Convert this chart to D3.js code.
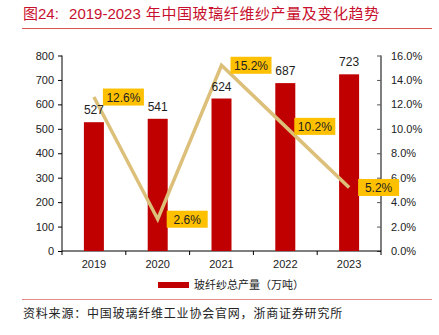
<!DOCTYPE html>
<html>
<head>
<meta charset="utf-8">
<script src="https://cdn.jsdelivr.net/npm/d3@7"></script>
<style>
body { margin: 0; background: #fff; }
svg { display: block; font-family: Arial, 'Liberation Sans', sans-serif; }
.cjk { font-family: 'Noto Sans CJK SC', sans-serif; }
</style>
</head>
<body>
<script>
// data
const years = ['2019', '2020', '2021', '2022', '2023']
const output = [527, 541, 624, 687, 723]
const growth = [12.6, 2.6, 15.2, 10.2, 5.2]
const leftTicks = [0, 100, 200, 300, 400, 500, 600, 700, 800]
const rightTicks = [0, 2, 4, 6, 8, 10, 12, 14, 16]

const width = 439, height = 335
const plot = {left: 62, right: 381, top: 55.5, bottom: 251}
const red = '#c00000'

const svg = d3.select('body').append('svg')
    .attr('width', width)
    .attr('height', height)

// title
svg.append('text')
    .attr('x', 23).attr('y', 19)
    .attr('fill', '#c8102e')
    .attr('font-size', 15)
    .html('<tspan class="cjk">图</tspan>24:  <tspan dx="6">2019-2023</tspan><tspan class="cjk" dx="5" letter-spacing="0.6">年中国玻璃纤维纱产量及变化趋势</tspan>')

svg.append('line')
    .attr('x1', 22).attr('x2', 432).attr('y1', 28.5).attr('y2', 28.5)
    .attr('stroke', '#d9534f').attr('stroke-width', 1)

svg.append('line')
    .attr('x1', 22).attr('x2', 432).attr('y1', 299.5).attr('y2', 299.5)
    .attr('stroke', '#e58a8a').attr('stroke-width', 1)

svg.append('text')
    .attr('class', 'cjk')
    .attr('x', 23).attr('y', 318)
    .attr('font-size', 12)
    .attr('letter-spacing', 0.8)
    .attr('fill', '#222')
    .text('资料来源：中国玻璃纤维工业协会官网，浙商证券研究所')

// scales
const x = d3.scaleBand()
    .domain(years)
    .range([plot.left, plot.right])

const yLeft = d3.scaleLinear()
    .domain([0, 800])
    .range([plot.bottom, plot.top])

const yRight = d3.scaleLinear()
    .domain([0, 16])
    .range([plot.bottom, plot.top])

// axes
const leftAxis = svg.append('g')
    .attr('transform', `translate(${plot.left},0)`)
    .call(d3.axisLeft(yLeft).tickValues(leftTicks).tickSize(4).tickPadding(4))
leftAxis.select('.domain').attr('d', `M0,${plot.top}V${plot.bottom}`).attr('stroke', '#000')
leftAxis.selectAll('text').attr('font-size', 11).attr('fill', '#222')

const rightAxis = svg.append('g')
    .attr('transform', `translate(${plot.right},0)`)
    .call(d3.axisRight(yRight).tickValues(rightTicks)
        .tickFormat(d => d.toFixed(1) + '%').tickSize(0).tickPadding(10))
rightAxis.select('.domain').attr('d', `M0,${plot.top}V${plot.bottom}`).attr('stroke', '#555').attr('stroke-width', 1.5)
rightAxis.selectAll('.tick line').attr('x2', -4).attr('stroke', '#555')
rightAxis.selectAll('text').attr('font-size', 11).attr('fill', '#222')

// x axis line with ticks at band edges
const xAxisG = svg.append('g')
xAxisG.append('line')
    .attr('x1', plot.left).attr('x2', plot.right)
    .attr('y1', plot.bottom).attr('y2', plot.bottom)
    .attr('stroke', '#000')
const edges = years.map(d => x(d)).concat([x(years[years.length - 1]) + x.bandwidth()])
xAxisG.selectAll('.xt')
    .data(edges)
    .join('line')
    .attr('x1', d => d).attr('x2', d => d)
    .attr('y1', plot.bottom).attr('y2', plot.bottom + 4)
    .attr('stroke', '#000')
xAxisG.selectAll('.xl')
    .data(years)
    .join('text')
    .attr('x', d => x(d) + x.bandwidth() / 2)
    .attr('y', plot.bottom + 17)
    .attr('text-anchor', 'middle')
    .attr('font-size', 11)
    .attr('fill', '#222')
    .text(d => d)

// bars
const barW = 20
svg.selectAll('.bar')
    .data(output)
    .join('rect')
    .attr('x', (d, i) => x(years[i]) + x.bandwidth() / 2 - barW / 2)
    .attr('y', d => yLeft(d))
    .attr('width', barW)
    .attr('height', d => plot.bottom - yLeft(d))
    .attr('fill', red)

// growth line
const line = d3.line()
    .x((d, i) => x(years[i]) + x.bandwidth() / 2)
    .y(d => yRight(d))

svg.append('path')
    .datum(growth)
    .attr('d', line)
    .attr('fill', 'none')
    .attr('stroke', '#dcbf78')
    .attr('stroke-width', 3.5)

// bar value labels over the line
svg.selectAll('.barlabel')
    .data(output)
    .join('text')
    .attr('x', (d, i) => x(years[i]) + x.bandwidth() / 2)
    .attr('y', d => yLeft(d) - 8)
    .attr('text-anchor', 'middle')
    .attr('font-size', 12)
    .attr('fill', '#222')
    .text(d => d)

const labels = svg.selectAll('.gl')
    .data(growth)
    .join('g')
    .attr('transform', (d, i) => `translate(${x(years[i]) + x.bandwidth() / 2 + 9},${yRight(d)})`)
labels.append('rect')
    .attr('x', 0).attr('y', -8.5)
    .attr('width', 41).attr('height', 17)
    .attr('fill', '#ffc000')
labels.append('text')
    .attr('x', 20.5).attr('y', 4.5)
    .attr('text-anchor', 'middle')
    .attr('font-size', 12)
    .attr('fill', '#222')
    .text(d => d.toFixed(1) + '%')

// legend
svg.append('rect')
    .attr('x', 158).attr('y', 282)
    .attr('width', 31).attr('height', 6)
    .attr('fill', red)
svg.append('text')
    .attr('class', 'cjk')
    .attr('x', 194).attr('y', 289)
    .attr('font-size', 11)
    .attr('fill', '#222')
    .text('玻纤纱总产量（万吨）')
</script>
</body>
</html>
